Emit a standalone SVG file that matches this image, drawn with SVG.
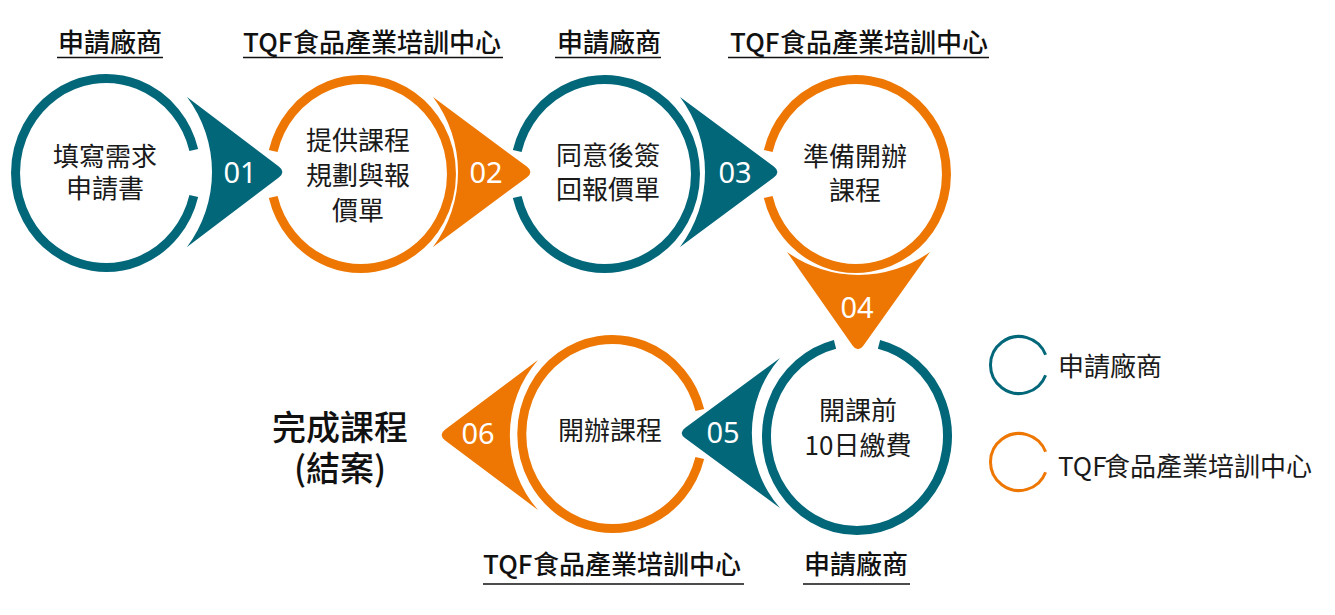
<svg xmlns="http://www.w3.org/2000/svg" width="1335" height="615" viewBox="0 0 1335 615">
<style>
.ring{fill:none;stroke-width:9}
.lg{fill:none;stroke-width:3}
.t{stroke:#03677A}
.o{stroke:#EE7703}
.ft{fill:#03677A}
.fo{fill:#EE7703}
.txt{font-family:"Noto Sans CJK TC","Noto Sans",sans-serif;font-size:26px;fill:#1a1a1a;text-anchor:middle}
.num{font-family:"Noto Sans","Open Sans",sans-serif;font-size:29px;fill:#ffffff;text-anchor:middle}
.lbl{font-family:"Noto Sans CJK TC",sans-serif;font-size:26px;font-weight:500;fill:#111111}
.ul{stroke:#111111;stroke-width:1.6}
.leg{font-family:"Noto Sans CJK TC",sans-serif;font-size:26px;fill:#1a1a1a}
.end{font-family:"Noto Sans CJK TC",sans-serif;font-size:34px;font-weight:500;fill:#111111;text-anchor:middle}
</style>
<rect width="1335" height="615" fill="#ffffff"/>

<g id="labels">
  <text class="lbl" x="58" y="52">申請廠商</text>
  <line class="ul" x1="57" y1="57.5" x2="163" y2="57.5"/>
  <text class="lbl" x="243" y="52">TQF<tspan x="293">食品產業培訓中心</tspan></text>
  <line class="ul" x1="243" y1="57.5" x2="503" y2="57.5"/>
  <text class="lbl" x="557" y="52">申請廠商</text>
  <line class="ul" x1="555" y1="57.5" x2="661" y2="57.5"/>
  <text class="lbl" x="730" y="52">TQF<tspan x="780">食品產業培訓中心</tspan></text>
  <line class="ul" x1="728" y1="57.5" x2="989" y2="57.5"/>
  <text class="lbl" x="483" y="574">TQF<tspan x="533">食品產業培訓中心</tspan></text>
  <line class="ul" x1="483" y1="584" x2="744" y2="584"/>
  <text class="lbl" x="804" y="574">申請廠商</text>
  <line class="ul" x1="803" y1="584" x2="910" y2="584"/>
</g>

<g id="node1">
  <path class="ring t" d="M193.8,150 A90.5,94.5 0 1 0 193.8,196"/>
  <text class="txt" x="105" y="166">填寫需求</text>
  <text class="txt" x="105" y="198">申請書</text>
</g>
<g id="node2">
  <path class="ring o" d="M273.2,151 A90.5,94.5 0 1 1 273.2,197"/>
  <text class="txt" x="358" y="150">提供課程</text>
  <text class="txt" x="358" y="185">規劃與報</text>
  <text class="txt" x="358" y="220">價單</text>
</g>
<g id="node3">
  <path class="ring t" d="M517.2,151 A90.5,94.5 0 1 1 517.2,197"/>
  <text class="txt" x="608" y="165">同意後簽</text>
  <text class="txt" x="608" y="199">回報價單</text>
</g>
<g id="node4">
  <path class="ring o" d="M768.2,151 A90.5,94.5 0 1 1 768.2,197"/>
  <text class="txt" x="855" y="166">準備開辦</text>
  <text class="txt" x="855" y="200">課程</text>
</g>
<g id="node5">
  <path class="ring t" d="M879,344.3 A90.5,94.5 0 1 1 835,344.3"/>
  <text class="txt" x="858" y="420">開課前</text>
  <text class="txt" x="858" y="455">10日繳費</text>
</g>
<g id="node6">
  <path class="ring o" d="M699.8,410 A90.5,94.5 0 1 0 699.8,458"/>
  <text class="txt" x="610" y="440">開辦課程</text>
</g>
<g id="end">
  <text class="end" x="340" y="440">完成課程</text>
  <text class="end" x="340" y="481">(結案)</text>
</g>

<g id="connectors">
  <path class="ft" d="M187,97 L278.8,166.6 Q286,172 278.8,177.4 L187,247 A125,125 0 0 0 187,97 Z"/>
  <text class="num" x="240" y="183">01</text>
  <path class="fo" d="M433,97 L526.8,166.6 Q534,172 526.8,177.4 L433,247 A125,125 0 0 0 433,97 Z"/>
  <text class="num" x="486" y="183">02</text>
  <path class="ft" d="M680,97 L773.8,166.6 Q781,172 773.8,177.4 L680,247 A125,125 0 0 0 680,97 Z"/>
  <text class="num" x="735" y="183">03</text>
  <path class="fo" d="M787,252 A123,123 0 0 0 930,252 L863.3,345.7 Q858,353 852.7,345.7 Z"/>
  <text class="num" x="857" y="318">04</text>
  <path class="ft" d="M780,358 A114,114 0 0 0 780,508 L685.3,438.3 Q678,433 685.3,427.7 Z"/>
  <text class="num" x="723" y="443">05</text>
  <path class="fo" d="M538,360 A114,114 0 0 0 538,510 L445.2,440.4 Q438,435 445.2,429.6 Z"/>
  <text class="num" x="478" y="444">06</text>
</g>

<g id="legend">
  <path class="lg t" d="M1045.6,354.8 A28.5,28.5 0 1 0 1045.6,375.2"/>
  <text class="leg" x="1058" y="376">申請廠商</text>
  <path class="lg o" d="M1045.6,451.8 A28.5,28.5 0 1 0 1045.6,472.2"/>
  <text class="leg" x="1058" y="476">TQF<tspan x="1104">食品產業培訓中心</tspan></text>
</g>
</svg>
